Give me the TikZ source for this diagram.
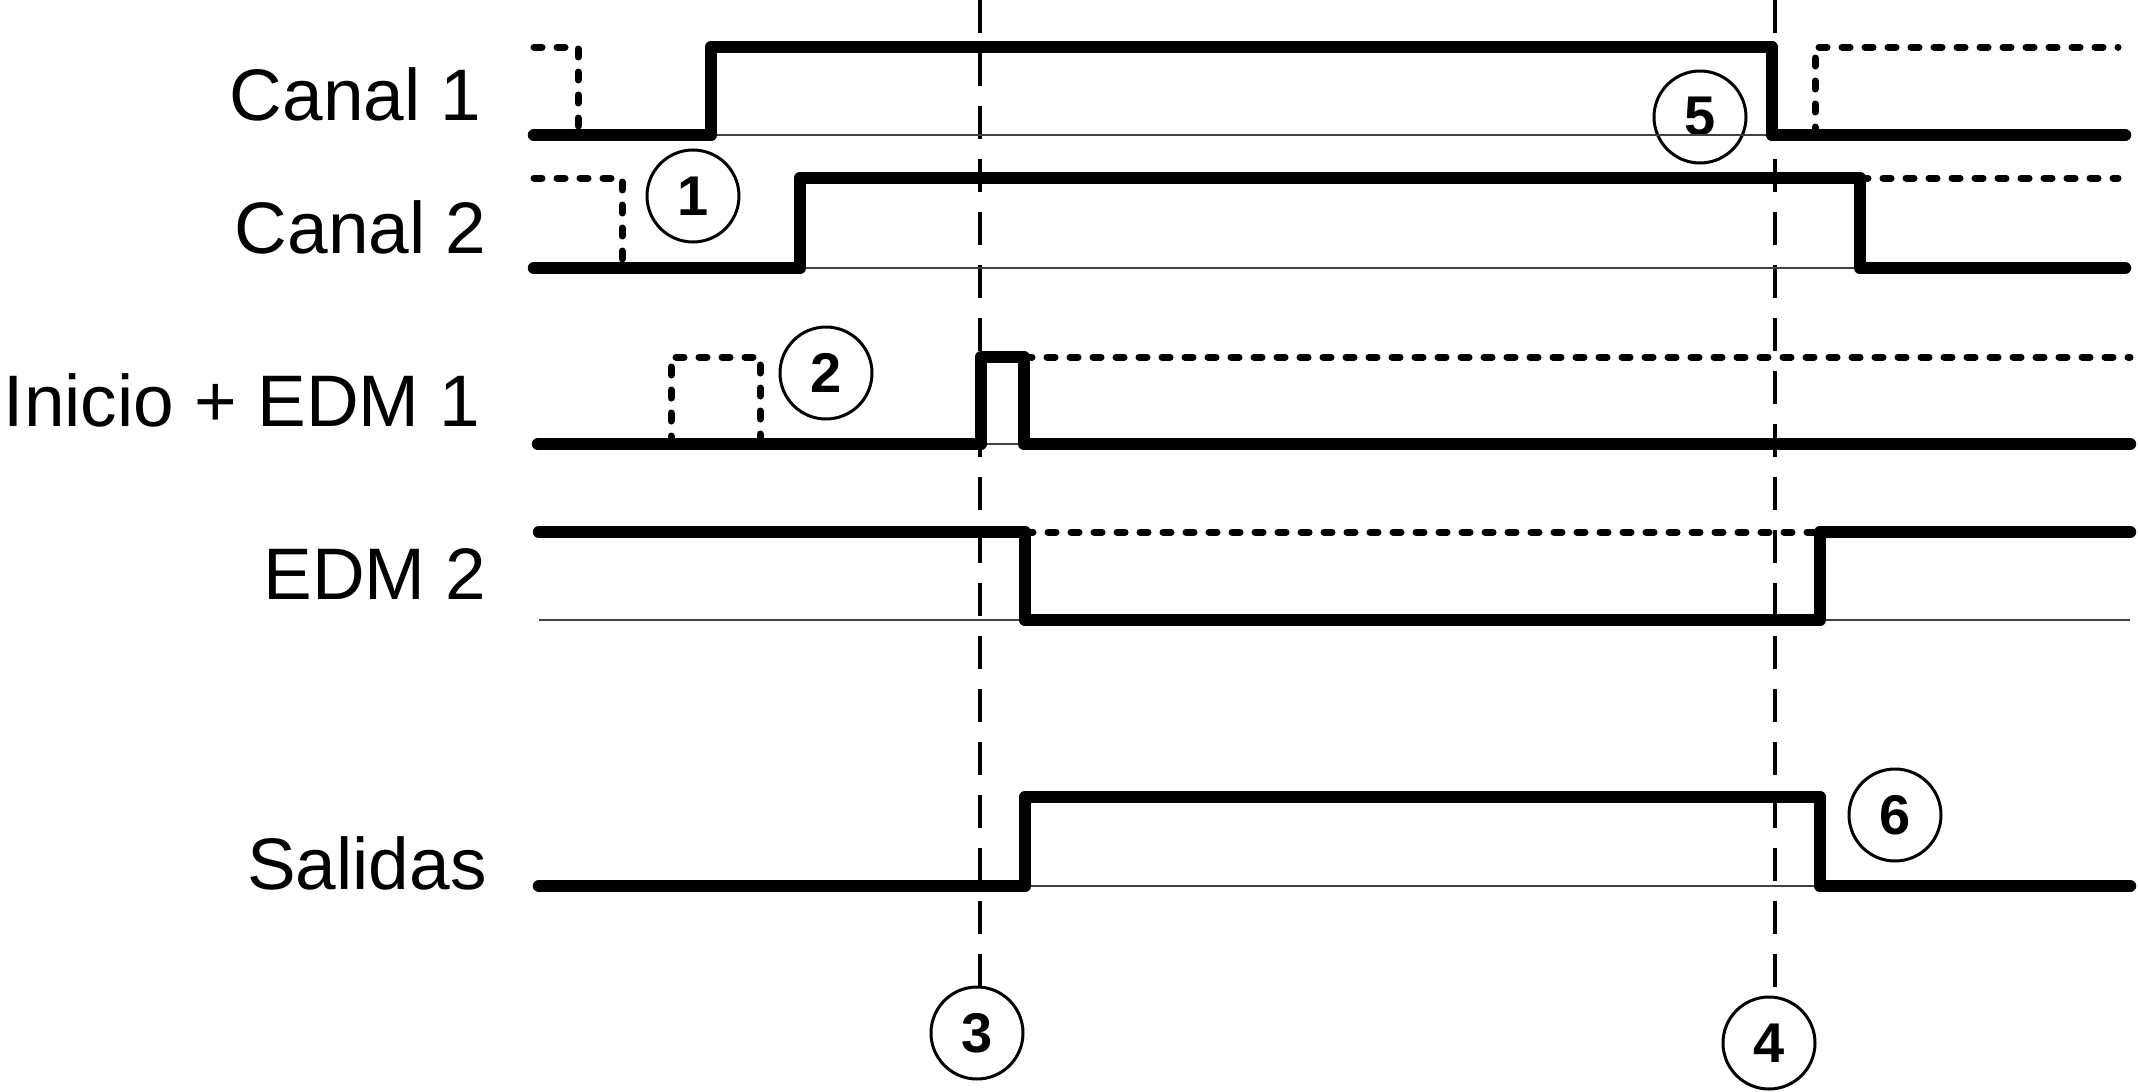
\documentclass[tikz,border=0pt]{standalone}
\usepackage{fontspec}
\setmainfont{Liberation Sans}
\begin{document}
\begin{tikzpicture}[x=0.5pt,y=-0.5pt,
  sig/.style={line width=6.25pt,line cap=round,line join=round},
  dotsig/.style={line width=3.5pt,line cap=round,dash pattern=on 4pt off 7.5pt},
  base/.style={line width=0.75pt,black!75},
  vdash/.style={line width=1.6pt,dash pattern=on 16.5pt off 10pt},
  num/.style={circle,draw,line width=1.5pt,minimum size=46pt,inner sep=0pt,font=\bfseries\fontsize{28}{30}\selectfont},
  lab/.style={anchor=base east,inner sep=0pt,font=\fontsize{36.5}{40}\selectfont}]
\useasboundingbox (0,0) rectangle (2138,1092);
% labels
\node[lab] (l1) at (482,120) {Canal 1};
\node[lab] (l2) at (487,253) {Canal 2};
\node[lab] (l3) at (481,426) {Inicio + EDM 1};
\node[lab] (l4) at (487,599) {EDM 2};
\node[lab] (l5) at (487,889) {Salidas};
% circles
\node[num] (c1) at (693,196) {1};
\node[num] (c2) at (826,373) {2};
\node[num] (c3) at (977,1033) {3};
\node[num] (c4) at (1769,1043) {4};
\node[num] (c5) at (1700,117) {5};
\node[num] (c6) at (1895,815) {6};
% vertical dashed markers
\coordinate (t3) at (980,0);
\coordinate (t4) at (1775,0);
\draw[vdash] (t3) -- (t3 |- c3.north);
\draw[vdash] (t4) -- (t4 |- c4.north);
% thin baselines
\draw[base] (711,135) -- (1772,135);
\draw[base] (800,268) -- (1860,268);
\draw[base] (981,444) -- (1024,444);
\draw[base] (539,620) -- (2130,620);
\draw[base] (1025,886) -- (1820,886);
% dotted alternatives
\draw[dotsig] (534,47) -- (578,47) -- (578,135);
\draw[dotsig] (1815,135) -- (1815,47) -- (2118,47);
\draw[dotsig] (534,178) -- (622,178) -- (622,268);
\draw[dotsig] (1860,178) -- (2118,178);
\draw[dotsig] (671,444) -- (671,357) -- (760,357) -- (760,444);
\draw[dotsig] (1024,357) -- (2130,357);
\draw[dotsig] (1025,532) -- (1820,532);
% signals
\draw[sig] (534,135) -- (711,135) -- (711,47) -- (1772,47) -- (1772,135) -- (2125,135);
\draw[sig] (534,268) -- (800,268) -- (800,178) -- (1860,178) -- (1860,268) -- (2125,268);
\draw[sig] (538,444) -- (981,444) -- (981,357) -- (1024,357) -- (1024,444) -- (2130,444);
\draw[sig] (539,532) -- (1025,532) -- (1025,620) -- (1820,620) -- (1820,532) -- (2130,532);
\draw[sig] (539,886) -- (1025,886) -- (1025,797) -- (1820,797) -- (1820,886) -- (2130,886);
\end{tikzpicture}
\end{document}
